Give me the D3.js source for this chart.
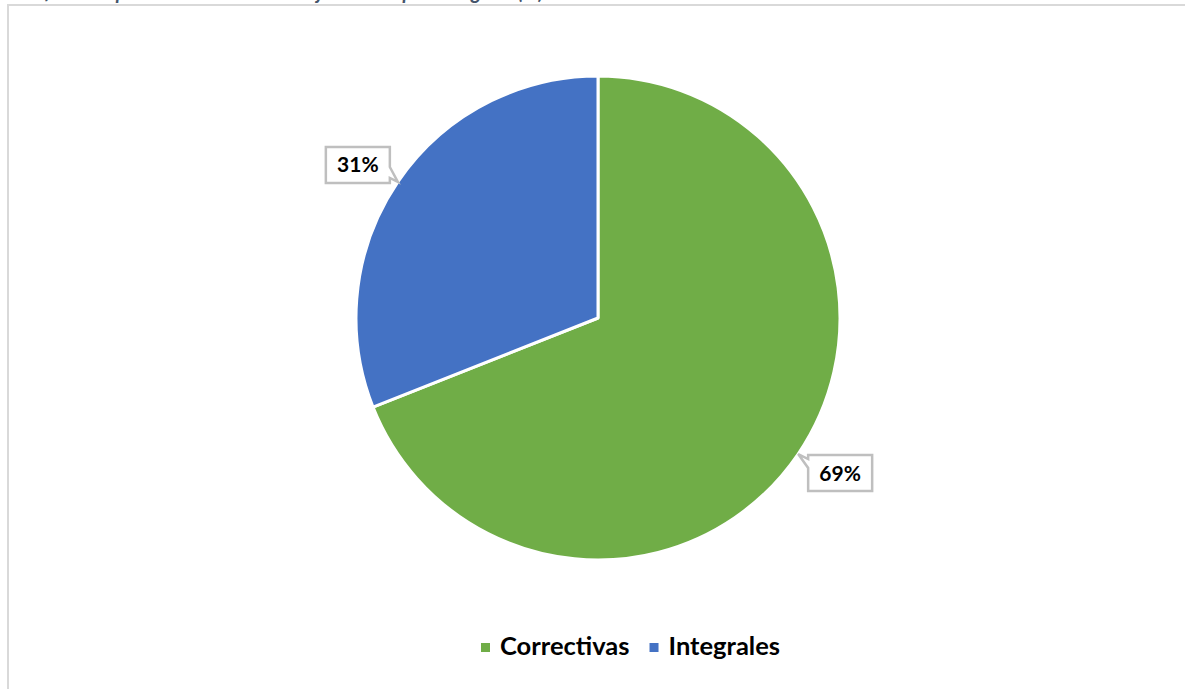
<!DOCTYPE html>
<html>
<head>
<meta charset="utf-8">
<title>Mantenimientos por categoría</title>
<script src="https://d3js.org/d3.v7.min.js"></script>
<style>
  body { margin: 0; background: #fff; }
  svg { display: block; }
</style>
</head>
<body>
<div id="chart"></div>
<script>
// data
var categories = ["Correctivas", "Integrales"]
var values = [69, 31]
var colors = ["#70ad47", "#4472c4"]
var labels = ["69%", "31%"]

var W = 1185, H = 689
var cx = 598, cy = 318, r = 242

var svg = d3.select("#chart").append("svg")
    .attr("width", W)
    .attr("height", H)

// title, cut off by the top edge as in the source
svg.append("text")
    .attr("x", 14)
    .attr("y", -1)
    .style("font-family", "Lato, sans-serif")
    .style("font-style", "italic")
    .style("font-weight", "bold")
    .style("font-size", "20px")
    .style("fill", "#44546a")
    .text("Gráfico 4. Tipo de mantenimientos ejecutados por categoría (%)")

// chart frame
svg.append("rect")
    .attr("x", 8)
    .attr("y", 5)
    .attr("width", W + 20)
    .attr("height", H + 20)
    .attr("fill", "none")
    .attr("stroke", "#d9d9d9")
    .attr("stroke-width", 2)

var pie = d3.pie().sort(null).value(function (d) { return d })
var arcs = pie(values)
var arc = d3.arc().innerRadius(0).outerRadius(r)

var g = svg.append("g").attr("transform", "translate(" + cx + "," + cy + ")")

g.selectAll("path.slice")
    .data(arcs)
    .enter().append("path")
    .attr("class", "slice")
    .attr("d", arc)
    .attr("fill", function (d, i) { return colors[i] })
    .attr("stroke", "#fff")
    .attr("stroke-width", 3)
    .attr("stroke-linejoin", "round")

// callout labels: tip sits on the outer edge at the slice mid angle
var bw = 64, bh = 36
var offsets = [[42, 19], [-40, -17]]

arcs.forEach(function (d, i) {
    var a = (d.startAngle + d.endAngle) / 2
    var tx = r * Math.sin(a), ty = -r * Math.cos(a)
    var bx = tx + offsets[i][0], by = ty + offsets[i][1]
    var x0 = bx - bw / 2, x1 = bx + bw / 2, y0 = by - bh / 2, y1 = by + bh / 2
    var p
    if (offsets[i][0] > 0) {
        // pointer from left side near top
        p = [[x0, y0], [x1, y0], [x1, y1], [x0, y1], [x0, y0 + 13], [tx, ty], [x0, y0 + 4]]
    } else {
        // pointer from right side near bottom
        p = [[x0, y0], [x1, y0], [x1, y1 - 16], [tx, ty], [x1, y1 - 5], [x1, y1], [x0, y1]]
    }
    g.append("path")
        .attr("d", d3.line()(p) + "Z")
        .attr("fill", "#fff")
        .attr("stroke", "#bfbfbf")
        .attr("stroke-width", 2.5)
    g.append("text")
        .attr("x", bx)
        .attr("y", by + 7.5)
        .attr("text-anchor", "middle")
        .style("font-family", "Lato, sans-serif")
        .style("font-weight", "bold")
        .style("font-size", "21px")
        .style("fill", "#000")
        .text(labels[i])
})

// legend
var legend = svg.append("g").attr("transform", "translate(481,655)")
var lx = 0
categories.forEach(function (c, i) {
    legend.append("rect")
        .attr("x", lx)
        .attr("y", -12)
        .attr("width", 9)
        .attr("height", 9)
        .attr("fill", colors[i])
    var t = legend.append("text")
        .attr("x", lx + 19)
        .attr("y", 0)
        .style("font-family", "Lato, sans-serif")
        .style("font-weight", "bold")
        .style("font-size", "25.5px")
        .style("fill", "#000")
        .text(c)
    lx += 19 + t.node().getComputedTextLength() + 20
})
</script>
</body>
</html>
